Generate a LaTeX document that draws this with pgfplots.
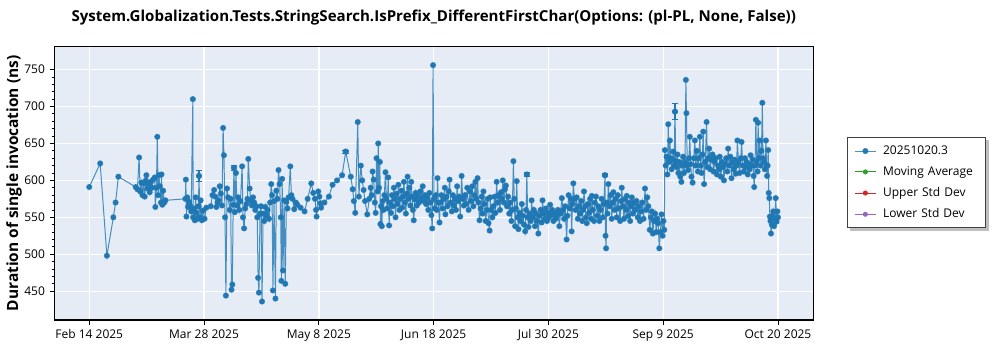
\documentclass[border=0pt]{standalone}
\usepackage{pgfplots}
\pgfplotsset{compat=1.18}
\usepackage{fontspec}
\setmainfont{Open Sans}
\pgfdeclarelayer{shadowlayer}
\pgfsetlayers{shadowlayer,main}
\definecolor{blueA}{HTML}{1F77B4}
\definecolor{bgc}{HTML}{E5ECF6}
\definecolor{greenA}{HTML}{2CA02C}
\definecolor{redA}{HTML}{D62728}
\definecolor{purpleA}{HTML}{9467BD}
\pgfplotstableread{
x y
0 591
3.9 623
6.3 498
8.6 550
9.4 570
10.4 605
16.6 591
17.2 588
17.8 631
18.2 585
18.6 597
19.0 580
19.4 596
19.8 578
20.2 600
20.4 607
20.8 589
21.2 595
21.6 584
22.0 598
22.4 590
22.8 601
23.4 604
23.6 564
24.0 590
24.3 659
24.6 580
24.9 607
25.2 592
25.6 570
25.8 608
26.1 567
26.4 586
26.8 570
27.2 573
34.3 575
34.5 601
34.7 551
35.0 577
35.3 564
35.7 571
36.0 566
36.4 558
37.0 710
37.1 550
37.4 562
37.7 546
38.0 577
38.3 556
38.6 548
39.0 565
39.2 606
39.5 550
39.8 573
40.2 546
40.6 559
41.2 548
41.8 563
43.4 565
44.0 580
44.6 587
45.0 578
45.4 564
45.8 570
46.2 573
46.6 592
47.0 582
47.4 566
47.8 671
48.1 634
48.5 550
48.8 444
49.2 589
49.6 577
50.2 560
50.5 575
50.8 452
51.1 459
51.4 567
51.7 617
52.0 557
52.4 610
52.8 566
53.2 577
53.6 560
54.0 572
54.6 619
54.9 550
55.3 535
55.7 562
56.1 568
56.5 575
56.8 629
57.3 589
57.7 572
58.1 566
58.5 577
58.9 570
59.3 560
59.7 565
60.0 550
60.3 468
60.6 448
61.0 555
61.4 565
61.7 436
62.1 555
62.5 545
62.9 564
63.3 552
63.7 560
64.2 548
64.6 570
65.0 595
65.3 580
65.6 451
66.0 572
66.5 440
66.8 586
67.2 575
67.6 614
68.0 595
68.4 550
68.6 464
68.9 602
69.2 478
69.6 573
70.0 460
70.4 571
70.8 562
71.2 577
71.8 619
72.2 580
72.6 575
73.2 561
73.8 570
74.3 567
75.5 563
76.9 558
78.0 575
79.3 596
80.0 583
80.6 575
81.0 560
81.2 551
81.8 585
82.2 578
82.6 569
82.8 563
84.0 570
85.6 578
86.9 594
88.5 600
90.3 607
91.6 639
93.4 605
94.1 588
94.5 572
95.0 556
95.9 679
96.3 578
97.0 620
97.5 600
98.0 587
98.5 572
99.3 554
100.0 575
100.5 590
100.9 580
101.2 612
101.6 601
102.0 570
102.3 556
102.6 630
103.0 585
103.2 650
103.5 590
103.8 625
104.0 541
104.2 565
104.5 538
104.8 572
105.1 560
105.4 580
105.8 611
106.1 575
106.4 562
106.8 604
107.1 539
107.4 570
107.8 556
108.1 580
108.4 565
108.8 590
109.1 575
109.4 550
109.8 582
110.1 568
110.4 594
110.8 560
111.1 575
111.5 586
111.8 563
112.1 578
112.4 598
112.8 570
113.1 555
113.4 582
113.7 605
114.0 575
114.3 590
114.7 566
115.0 598
115.3 578
115.6 560
115.9 546
116.3 574
116.6 583
117.0 566
117.4 578
117.8 570
118.2 585
118.6 576
119.1 592
119.5 572
119.9 580
120.3 568
120.7 576
121.1 560
121.5 583
121.9 570
122.2 553
122.5 535
122.8 756
123.1 575
123.4 562
123.8 580
124.1 560
124.4 603
124.7 570
125.1 543
125.4 570
125.8 580
126.2 562
126.6 575
127.0 590
127.2 554
127.6 578
128.0 565
128.4 585
128.7 601
129.1 570
129.5 558
129.9 580
130.3 566
130.7 575
131.0 560
131.4 592
131.8 572
132.2 578
132.5 551
133.0 606
133.4 575
133.8 566
134.2 580
134.6 568
135.0 590
135.5 560
136.0 585
136.4 572
136.8 592
137.2 565
137.6 580
137.9 598
138.3 575
138.7 603
139.0 570
139.4 546
139.8 562
140.2 578
140.5 555
140.8 585
141.2 568
141.6 545
142.0 560
142.3 575
142.6 542
143.0 532
143.2 577
143.6 560
144.0 550
144.4 565
144.8 578
145.1 556
145.5 598
145.9 570
146.3 580
146.7 560
147.1 584
147.4 575
147.7 600
148.1 570
148.5 588
148.8 593
149.2 565
149.6 578
150.0 555
150.4 570
150.8 545
151.1 560
151.5 626
151.8 575
152.1 538
152.4 562
152.7 599
153.0 550
153.3 534
153.7 556
154.1 545
154.5 568
154.9 552
155.3 540
155.7 531
156.0 560
156.3 608
156.6 550
156.9 537
157.3 555
157.7 545
158.0 573
158.4 550
158.8 560
159.2 538
159.6 555
160.0 545
160.4 528
160.8 552
161.2 560
161.6 543
161.9 573
162.3 555
162.7 548
163.1 562
163.5 545
163.9 556
164.2 550
164.6 567
165.0 553
165.4 560
165.8 545
166.2 555
166.6 548
167.0 551
167.4 560
167.9 538
168.3 555
168.8 576
169.2 560
169.6 548
170.0 565
170.5 520
170.8 552
171.2 580
171.6 562
172.0 575
172.3 531
172.6 568
172.9 596
173.3 575
173.7 560
174.1 577
174.5 548
174.9 565
175.3 555
175.7 572
176.1 545
176.4 560
176.7 585
177.1 565
177.4 550
177.7 542
178.1 568
178.5 556
178.9 575
179.2 548
179.5 579
179.9 560
180.3 545
180.6 570
181.0 578
181.4 552
181.8 565
182.2 545
182.6 560
183.0 575
183.4 550
183.8 568
184.2 607
184.4 525
184.6 508
184.8 570
185.1 555
185.4 595
185.8 565
186.2 580
186.6 548
187.0 570
187.2 584
187.6 560
188.0 575
188.4 550
188.8 580
189.2 562
189.6 545
190.0 572
190.2 590
190.6 565
191.0 548
191.4 575
191.8 560
192.0 579
192.4 552
192.8 570
193.2 545
193.5 565
193.8 577
194.2 555
194.6 570
195.0 560
195.5 572
195.9 550
196.3 565
196.7 545
197.1 558
197.5 570
198.0 548
198.5 589
198.9 560
199.3 577
199.7 565
200.2 533
200.6 550
200.9 558
201.3 528
201.7 545
202.1 555
202.5 530
202.9 548
203.2 542
203.6 508
204.0 530
204.4 554
204.8 525
205.1 545
205.4 533
205.6 641
205.9 620
206.2 632
206.5 608
206.8 676
207.1 625
207.4 654
207.7 630
208.0 615
208.3 628
208.6 639
208.9 620
209.2 693
209.5 626
209.8 618
210.1 635
210.4 610
210.8 625
211.1 605
211.5 598
211.8 620
212.1 632
212.4 610
212.8 625
213.1 736
213.3 691
213.6 620
213.9 614
214.2 630
214.5 659
214.8 622
215.1 605
215.5 597
215.9 630
216.3 654
216.6 620
217.0 640
217.4 612
217.7 630
218.1 659
218.4 620
218.7 610
219.0 635
219.3 666
219.6 595
220.0 625
220.5 679
220.8 618
221.1 630
221.4 643
221.8 615
222.2 628
222.6 635
223.0 612
223.4 625
223.8 630
224.2 608
224.6 620
225.0 615
225.2 632
225.6 605
226.0 625
226.4 618
226.7 600
227.1 622
227.5 630
227.9 612
228.2 643
228.6 620
229.0 632
229.4 603
229.8 625
230.2 615
230.6 628
230.9 609
231.2 620
231.5 654
231.9 625
232.3 610
232.7 630
233.0 652
233.4 620
233.8 612
234.2 630
234.5 618
234.8 625
235.2 608
235.6 622
235.9 615
236.2 634
236.6 620
237.0 628
237.3 606
237.5 591
237.8 620
238.1 682
238.4 625
238.7 612
238.9 678
239.2 630
239.5 654
239.8 620
240.1 640
240.4 705
240.7 630
241.0 625
241.3 615
241.7 654
241.9 620
242.1 606
242.3 620
242.5 641
242.7 583
242.9 576
243.1 551
243.3 545
243.5 528
243.8 540
244.0 552
244.3 558
244.6 538
244.9 548
245.2 576
245.5 544
245.8 558
246.0 550
}\maindata
\begin{document}
\begin{tikzpicture}
\begin{axis}[
  width=569.25pt, height=205pt, scale only axis,
  xmin=-12.5, xmax=258.6, ymin=411, ymax=781,
  xtick={0,41,82,123,164,205,246},
  xticklabels={Feb 14 2025,Mar 28 2025,May 8 2025,Jun 18 2025,Jul 30 2025,Sep 9 2025,Oct 20 2025},
  ytick={450,500,550,600,650,700,750},
  minor y tick num=4,
  /pgf/number format/assume math mode=true,
  axis background/.style={fill=bgc},
  xmajorgrids, ymajorgrids,
  major grid style={white, line width=1pt},
  axis line style={black, line width=1pt},
  tick align=outside, tick pos=left,
  major tick length=3.5pt, minor tick length=2pt,
  tick style={black, line width=0.6pt},
  ticklabel style={font=\fontsize{9}{10}\selectfont},
  title={System.Globalization.Tests.StringSearch.IsPrefix\_DifferentFirstChar(Options: (pl-PL, None, False))},
  title style={font=\bfseries\fontsize{11.3}{13}\selectfont, at={(axis description cs:0.5,1)}, anchor=center, yshift=15.5pt},
  ylabel={Duration of single invocation (ns)},
  ylabel style={font=\bfseries\fontsize{11.6}{14}\selectfont, at={(axis description cs:-0.053,0.5)}, anchor=center},
  legend image code/.code={\draw[line width=0.75pt, mark repeat=2,mark phase=2] plot coordinates {(0pt,0pt) (7.9pt,0pt) (15.8pt,0pt)};},
  legend style={name=leg, at={(axis description cs:1.0448,0.6685)}, anchor=north west,
    draw=black!75, line width=0.6pt, fill=white, font=\fontsize{9}{10}\selectfont,
    row sep=3.6pt, inner xsep=5pt, inner ysep=4pt,
    /tikz/every odd column/.append style={column sep=3pt},
    /tikz/every even column/.append style={text width=70pt}},
  legend cell align=left,
]
\addplot[color=blueA, line width=0.75pt, draw opacity=0.8, mark=*, mark size=1.9pt,
  mark options={fill=blueA, draw=blueA, draw opacity=0.8}] table[x=x,y=y] {\maindata};
\addlegendentry{20251020.3}
\addplot[forget plot, only marks, color=blueA, mark=*, mark size=1.9pt,
  error bars/.cd, y dir=both, y explicit,
  error bar style={line width=0.8pt, blueA},
  error mark options={rotate=90, mark size=2.5pt, line width=0.8pt, blueA}]
  coordinates {(39.2,606) +- (0,7) (156.3,608) +- (0,3) (209.2,693) +- (0,11) (91.6,639) +- (0,2) (51.7,617) +- (0,3) (184.2,607) +- (0,2)};
\addlegendimage{color=greenA, line width=0.75pt, mark=*, mark size=1.5pt, mark options={fill=greenA, draw=greenA}}
\addlegendentry{Moving Average}
\addlegendimage{color=redA, line width=0.75pt, mark=*, mark size=1.5pt, mark options={fill=redA, draw=redA}}
\addlegendentry{Upper Std Dev}
\addlegendimage{color=purpleA, line width=0.75pt, mark=*, mark size=1.5pt, mark options={fill=purpleA, draw=purpleA}}
\addlegendentry{Lower Std Dev}
\end{axis}
\begin{pgfonlayer}{shadowlayer}
\fill[black!25] ([xshift=2.2pt,yshift=-2.2pt]leg.south west) rectangle ([xshift=2.2pt,yshift=-2.2pt]leg.north east);
\end{pgfonlayer}
\pgfresetboundingbox
\path[use as bounding box] (-40.7pt,-22.5pt) rectangle (709.3pt,240pt);
\end{tikzpicture}
\end{document}
